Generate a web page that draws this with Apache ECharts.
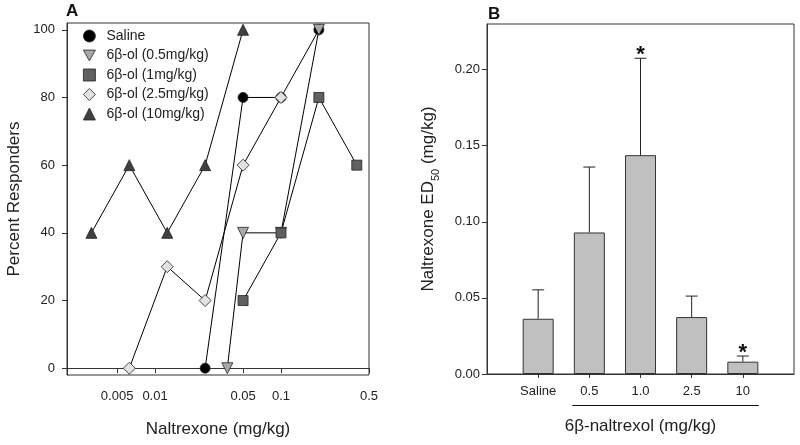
<!DOCTYPE html>
<html>
<head>
<meta charset="utf-8">
<script src="https://cdn.jsdelivr.net/npm/echarts@6/dist/echarts.min.js"></script>
<style>html,body{margin:0;padding:0;background:#fff}#c{width:800px;height:445px}</style>
</head>
<body>
<div id="c"></div>
<script>
// ---------- Panel A data ----------
const seriesNamesA = ['Saline', '6β-ol (0.5mg/kg)', '6β-ol (1mg/kg)', '6β-ol (2.5mg/kg)', '6β-ol (10mg/kg)'];
const dosesSaline = [0.025, 0.05, 0.1, 0.2];
const respSaline  = [0, 80, 80, 100];
const doses05 = [0.0375, 0.05, 0.1, 0.2];
const resp05  = [0, 40, 40, 100];
const doses1 = [0.05, 0.1, 0.2, 0.4];
const resp1  = [20, 40, 80, 60];
const doses25 = [0.00625, 0.0125, 0.025, 0.05, 0.1];
const resp25  = [0, 30, 20, 60, 80];
const doses10 = [0.003125, 0.00625, 0.0125, 0.025, 0.05];
const resp10  = [40, 60, 40, 60, 100];
const xTicksA = [0.005, 0.01, 0.05, 0.1, 0.5];
const yTicksA = [0, 20, 40, 60, 80, 100];

// ---------- Panel B data ----------
const groupsB = ['Saline', '0.5', '1.0', '2.5', '10'];
const ed50Mean = [0.0363, 0.093, 0.1438, 0.0374, 0.0081];
const ed50Sem  = [0.0190, 0.043, 0.0637, 0.0138, 0.0037];
const significant = [false, false, true, false, true];
const yTicksB = [0, 0.05, 0.10, 0.15, 0.20];

const FONT = "'Liberation Sans', Arial, sans-serif";
const chart = echarts.init(document.getElementById('c'));

function pairs(xs, ys) { return xs.map((x, i) => [x, ys[i]]); }

const DOWN_TRI = 'path://M0,0 L10,0 L5,9 Z';
const stylesA = [
  { symbol: 'circle', legendIcon: 'circle', rot: 0, size: 10, color: '#000000' },
  { symbol: 'triangle', legendIcon: DOWN_TRI, rot: 180, size: 11, color: '#a8a8a8' },
  { symbol: 'rect', legendIcon: 'rect', rot: 0, size: 10, color: '#606060' },
  { symbol: 'diamond', legendIcon: 'diamond', rot: 0, size: 12, color: '#e2e2e2' },
  { symbol: 'triangle', legendIcon: 'triangle', rot: 0, size: 11, color: '#404040' }
];
const dataA = [pairs(dosesSaline, respSaline), pairs(doses05, resp05), pairs(doses1, resp1), pairs(doses25, resp25), pairs(doses10, resp10)];

const seriesA = seriesNamesA.map((name, i) => ({
  name: name,
  type: 'line',
  xAxisIndex: 0, yAxisIndex: 0,
  data: dataA[i],
  symbol: stylesA[i].symbol,
  symbolRotate: stylesA[i].rot,
  symbolSize: stylesA[i].size,
  showAllSymbol: true,
  clip: false,
  lineStyle: { color: '#000', width: 1 },
  itemStyle: { color: stylesA[i].color, borderColor: '#222', borderWidth: 0.8, opacity: 1 },
  emphasis: { disabled: true },
  animation: false
}));

const catB = [''].concat(groupsB).concat(['']);
const barData = [null].concat(ed50Mean).concat([null]);
const errData = ed50Mean.map((m, i) => [i + 1, m, m + ed50Sem[i], significant[i] ? 1 : 0]);

const option = {
  animation: false,
  textStyle: { fontFamily: FONT },
  legend: {
    left: 78, top: 24, orient: 'vertical',
    itemWidth: 12, itemHeight: 12, itemGap: 5.5,
    textStyle: { fontSize: 14, color: '#222', fontFamily: FONT, lineHeight: 14, padding: [0, 0, 0, 6] },
    selectedMode: false,
    itemStyle: { borderWidth: 0.8, borderColor: '#222' },
    data: seriesNamesA.map((n, i) => ({
      name: n, icon: stylesA[i].legendIcon,
      itemStyle: { color: stylesA[i].color, borderColor: '#222', borderWidth: 0.8 }
    }))
  },
  grid: [
    { left: 67, top: 23, width: 302, height: 352, show: true, borderColor: '#333', borderWidth: 1 },
    { left: 487, top: 24, width: 307, height: 350, show: true, borderColor: '#333', borderWidth: 1 }
  ],
  xAxis: [
    {
      type: 'log', gridIndex: 0, min: 0.002, max: 0.5, logBase: 10,
      name: 'Naltrexone (mg/kg)', nameLocation: 'middle', nameGap: 46,
      nameTextStyle: { fontSize: 17, color: '#222', fontFamily: FONT },
      axisLine: { lineStyle: { color: '#333' } },
      axisTick: { show: true, length: 5, customValues: xTicksA, lineStyle: { color: '#333' } },
      minorTick: { show: false },
      axisLabel: { customValues: xTicksA, fontSize: 13, color: '#222', margin: 15, fontFamily: FONT,
        formatter: v => String(+v.toPrecision(3)) },
      splitLine: { show: false }
    },
    {
      type: 'category', gridIndex: 1, data: catB, boundaryGap: false,
      name: '6β-naltrexol (mg/kg)', nameLocation: 'middle', nameGap: 44,
      nameTextStyle: { fontSize: 17, color: '#222', fontFamily: FONT },
      axisLine: { lineStyle: { color: '#333' } },
      axisTick: { show: true, length: 4, alignWithLabel: true, interval: (idx) => idx > 0 && idx < catB.length - 1, lineStyle: { color: '#333' } },
      axisLabel: { fontSize: 13, color: '#222', margin: 11, interval: 0, fontFamily: FONT },
      splitLine: { show: false }
    }
  ],
  yAxis: [
    {
      type: 'value', gridIndex: 0, min: -2, max: 102,
      name: 'Percent Responders', nameLocation: 'middle', nameGap: 44,
      nameTextStyle: { fontSize: 17, color: '#222', fontFamily: FONT },
      axisLine: { show: true, lineStyle: { color: '#333' } },
      axisTick: { show: true, length: 5, customValues: yTicksA, lineStyle: { color: '#333' } },
      axisLabel: { customValues: yTicksA, fontSize: 13, color: '#222', margin: 12, fontFamily: FONT },
      splitLine: { show: false }
    },
    {
      type: 'value', gridIndex: 1, min: 0, max: 0.23,
      name: '{m|Naltrexone ED}{s|50}{m| (mg/kg)}', nameLocation: 'middle', nameGap: 50,
      nameTextStyle: {
        fontSize: 17, color: '#222', fontFamily: FONT,
        rich: {
          m: { fontSize: 17, color: '#222', fontFamily: FONT, lineHeight: 20, verticalAlign: 'bottom' },
          s: { fontSize: 11, color: '#222', fontFamily: FONT, lineHeight: 20, verticalAlign: 'bottom', padding: [0, 0, -4, 0] }
        }
      },
      axisLine: { show: true, lineStyle: { color: '#333' } },
      axisTick: { show: true, length: 5, customValues: yTicksB, lineStyle: { color: '#333' } },
      axisLabel: { customValues: yTicksB, fontSize: 13, color: '#222', margin: 7, fontFamily: FONT, formatter: v => (+v).toFixed(2) },
      splitLine: { show: false }
    }
  ],
  series: seriesA.concat([
    {
      type: 'bar', xAxisIndex: 1, yAxisIndex: 1, data: barData, barWidth: 31,
      itemStyle: { color: '#c0c0c0', borderColor: '#333', borderWidth: 1 },
      emphasis: { disabled: true }, z: 2
    },
    {
      type: 'custom', xAxisIndex: 1, yAxisIndex: 1, data: errData, z: 3,
      renderItem: function (params, api) {
        const p0 = api.coord([api.value(0), api.value(1)]);
        const p1 = api.coord([api.value(0), api.value(2)]);
        const cap = 6;
        const st = { stroke: '#222', lineWidth: 1 };
        const children = [
          { type: 'line', shape: { x1: p0[0], y1: p0[1], x2: p1[0], y2: p1[1] }, style: st },
          { type: 'line', shape: { x1: p1[0] - cap, y1: p1[1], x2: p1[0] + cap, y2: p1[1] }, style: st }
        ];
        if (api.value(3)) {
          children.push({ type: 'text', style: { text: '*', x: p1[0], y: p1[1] + 8, align: 'center', verticalAlign: 'bottom', font: 'bold 22px ' + FONT, fill: '#111' } });
        }
        return { type: 'group', children: children };
      }
    }
  ])
};
chart.setOption(option);

// underline below the 6β-naltrexol groups, positioned from the axis scale
const pL = chart.convertToPixel({ xAxisIndex: 1, yAxisIndex: 1 }, [groupsB[1], 0]);
const pR = chart.convertToPixel({ xAxisIndex: 1, yAxisIndex: 1 }, [groupsB[groupsB.length - 1], 0]);
chart.setOption({
  graphic: [
    { type: 'text', left: 66, top: 3, style: { text: 'A', font: 'bold 17px ' + FONT, fill: '#111' } },
    { type: 'text', left: 488, top: 6, style: { text: 'B', font: 'bold 17px ' + FONT, fill: '#111' } },
    { type: 'line', shape: { x1: pL[0] - 17, y1: pL[1] + 31.5, x2: pR[0] + 16, y2: pR[1] + 31.5 }, style: { stroke: '#111', lineWidth: 1.2 } }
  ]
});
</script>
</body>
</html>
